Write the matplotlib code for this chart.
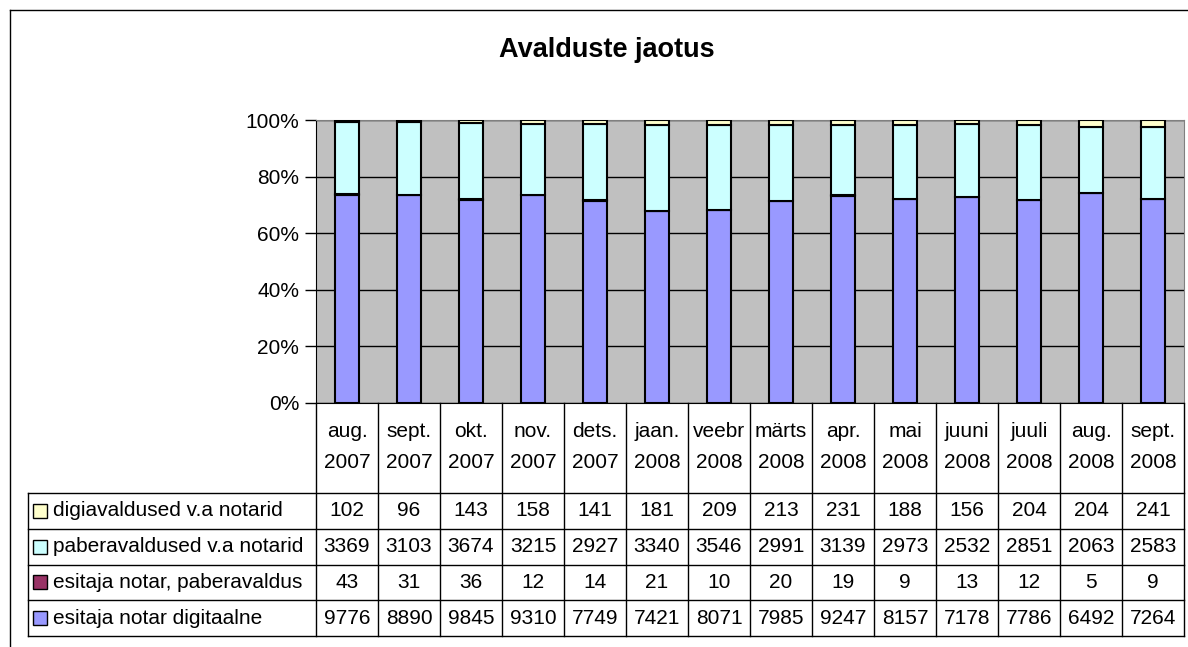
import numpy as np
import matplotlib
matplotlib.use("Agg")
import matplotlib.pyplot as plt
from matplotlib.lines import Line2D

plt.rcParams['font.family'] = ['Liberation Sans', 'DejaVu Sans']

# andmed
kuud = ["aug.\n2007", "sept.\n2007", "okt.\n2007", "nov.\n2007", "dets.\n2007",
        "jaan.\n2008", "veebr\n2008", "märts\n2008", "apr.\n2008", "mai\n2008",
        "juuni\n2008", "juuli\n2008", "aug.\n2008", "sept.\n2008"]
notar_digi = [9776, 8890, 9845, 9310, 7749, 7421, 8071, 7985, 9247, 8157, 7178, 7786, 6492, 7264]
notar_paber = [43, 31, 36, 12, 14, 21, 10, 20, 19, 9, 13, 12, 5, 9]
paber = [3369, 3103, 3674, 3215, 2927, 3340, 3546, 2991, 3139, 2973, 2532, 2851, 2063, 2583]
digi = [102, 96, 143, 158, 141, 181, 209, 213, 231, 188, 156, 204, 204, 241]

nimed = ["esitaja notar digitaalne", "esitaja notar, paberavaldus",
         "paberavaldused v.a notarid", "digiavaldused v.a notarid"]
varvid = ["#9999FF", "#993366", "#CCFFFF", "#FFFFCC"]
seeriad = [notar_digi, notar_paber, paber, digi]

W, H = 1188, 647
fs = 15

fig = plt.figure(figsize=(W / 100, H / 100), dpi=100)

# valimine raam (lõigatud paremalt ja alt)
fig.add_artist(Line2D([10 / W, 10 / W], [0, 1 - 10 / H], color='k', lw=1))
fig.add_artist(Line2D([10 / W, 1], [1 - 10 / H, 1 - 10 / H], color='k', lw=1))

fig.text(607 / W, 1 - 50 / H, "Avalduste jaotus", ha='center', va='center',
         fontsize=19.5, fontweight='bold')

# joonise ala
x0, x1, ytop, ybot = 316, 1184, 120, 403
ax = fig.add_axes([x0 / W, 1 - ybot / H, (x1 - x0) / W, (ybot - ytop) / H])
ax.set_facecolor('#C0C0C0')
n = len(kuud)
x = np.arange(n)
data = np.array(seeriad, dtype=float)
osa = data / data.sum(axis=0)
alus = np.zeros(n)
for i in range(len(seeriad)):
    ax.bar(x, osa[i], 0.4, bottom=alus, color=varvid[i], edgecolor='k',
           linewidth=1.5, zorder=3)
    alus += osa[i]
ax.set_xlim(-0.5, n - 0.5)
ax.set_ylim(0, 1)
ax.set_yticks(np.arange(0, 1.01, 0.2))
ax.set_yticklabels([f"{int(round(v * 100))}%" for v in np.arange(0, 1.01, 0.2)],
                   fontsize=fs)
ax.tick_params(axis='y', direction='out', length=8, width=1, pad=4)
ax.set_xticks([])
ax.yaxis.grid(True, color='k', linewidth=1, zorder=1)
ax.set_axisbelow(True)
for s in ['top', 'right']:
    ax.spines[s].set_color('#808080')
ax.spines['left'].set_color('k')
ax.spines['bottom'].set_color('k')

# andmetabel
tbot = 636
tax = fig.add_axes([x0 / W, 1 - tbot / H, (x1 - x0) / W, (tbot - ybot) / H])
tax.set_xlim(-0.5, n - 0.5)
th = tbot - ybot
tax.set_ylim(th, 0)
tax.axis('off')

pais = 90
rida = (th - pais) / 4
vasak = -0.5 - (x0 - 28) / 62.0

for k in range(n + 1):
    tax.plot([k - 0.5, k - 0.5], [0, th], color='k', lw=1, clip_on=False)
tax.plot([vasak, vasak], [pais, th], color='k', lw=1, clip_on=False)
for r in range(5):
    yy = pais + r * rida
    tax.plot([vasak, n - 0.5], [yy, yy], color='k', lw=1, clip_on=False)

for i, kuu in enumerate(kuud):
    tax.text(i, pais / 2 - 1, kuu, ha='center', va='center', fontsize=fs,
             linespacing=1.75)

ridade_jarjekord = [3, 2, 1, 0]
for r, si in enumerate(ridade_jarjekord):
    yc = pais + (r + 0.5) * rida
    for i in range(n):
        tax.text(i, yc, str(seeriad[si][i]), ha='center', va='center', fontsize=fs)
    tax.text(vasak + 25 / 62, yc, nimed[si], ha='left', va='center', fontsize=fs,
             clip_on=False)
    tax.plot([vasak + 12.5 / 62], [yc], marker='s', markersize=9.5,
             markerfacecolor=varvid[si], markeredgecolor='k', markeredgewidth=1,
             clip_on=False)

fig.savefig("out.png", dpi=100)
